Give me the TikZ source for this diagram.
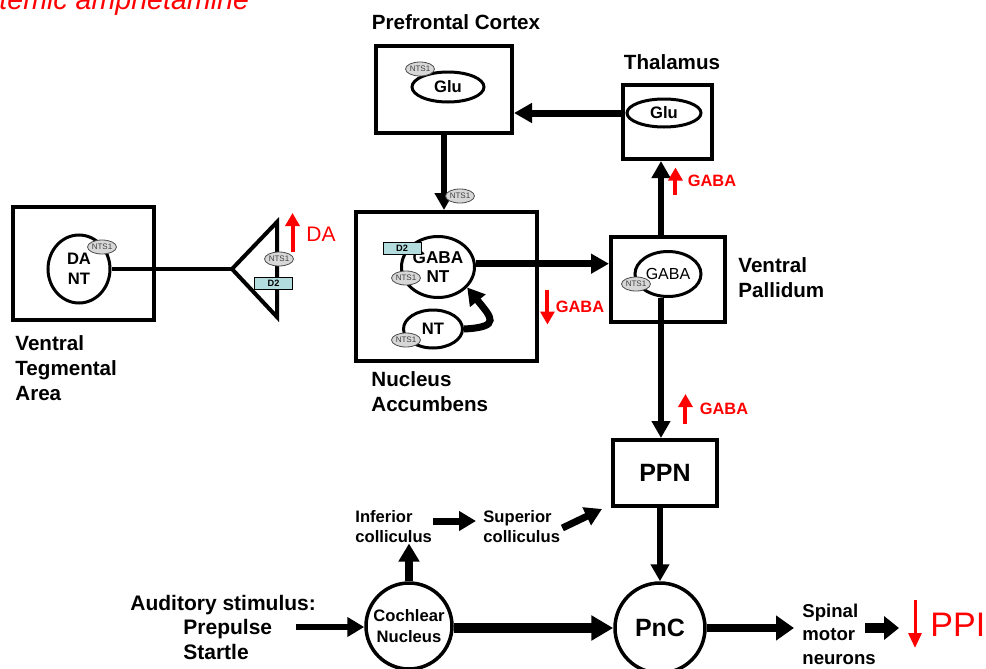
\documentclass[tikz,border=0pt]{standalone}
\usepackage{fontspec}
\setmainfont{Liberation Sans}
\usetikzlibrary{arrows.meta,shapes.geometric,calc}
\definecolor{dtwofill}{RGB}{178,220,222}
\definecolor{ntsfill}{RGB}{215,215,215}
\tikzset{
  region/.style={draw,line width=2pt,inner sep=0pt},
  cell/.style={draw,ellipse,line width=1.5pt,inner sep=0pt,align=center,
    font=\bfseries\fontsize{8.3}{10}\selectfont},
  nts/.style={draw=black!70,ellipse,fill=ntsfill,line width=0.4pt,inner sep=0pt,
    minimum width=13pt,minimum height=7pt,text=black!75,font=\fontsize{4}{4}\selectfont},
  dtwo/.style={draw,fill=dtwofill,line width=0.5pt,inner sep=0pt,
    minimum width=19pt,minimum height=6pt,font=\bfseries\fontsize{4.6}{5}\selectfont},
  lbl/.style={align=left,inner sep=0pt,font=\bfseries\fontsize{10.3}{12.5}\selectfont},
  small/.style={align=left,inner sep=0pt,font=\bfseries\fontsize{8.3}{10}\selectfont},
  conn/.style={line width=3pt,-{Triangle[length=8.5pt,width=9pt]}},
  fat/.style={line width=3.5pt,-{Triangle[length=9pt,width=9.5pt]}},
  blk/.style={line width=3.5pt,-{Triangle[length=8.5pt,width=9.5pt]}},
  redmark/.style={red,line width=2pt,-{Triangle[length=6.5pt,width=7pt]}},
  redtxt/.style={red,inner sep=0pt,font=\bfseries\fontsize{8.2}{9}\selectfont},
}
\begin{document}
\begin{tikzpicture}[x=0.5pt,y=-0.5pt]
\useasboundingbox (0,0) rectangle (986,669);
\node[anchor=base west,inner sep=0pt,text=red,font=\itshape\fontsize{14.3}{16}\selectfont] (title) at (-1,10) {temic amphetamine};
%Ventral Tegmental Area
\node[region,minimum width=70.5pt,minimum height=56.5pt] (vta) at (83.5,263.5) {};
\node[cell,minimum width=31pt,minimum height=34pt] (dant) at (79,269) {DA\\NT};
\node[nts] (dants) at (102,247) {NTS1};
\node[lbl,anchor=west] (vtalbl) at (15,368) {Ventral\\Tegmental\\Area};
%Terminal
\coordinate (term) at (232,269);
\coordinate (termtop) at (277,222);
\coordinate (termbot) at (277,317);
\draw[line width=2pt] (dant.east) -- (term);
\draw[line width=2pt,line join=miter] (term) -- (termtop) -- (termbot) -- cycle;
\node[nts] (termnts) at (279,259) {NTS1};
\node[dtwo] (termd2) at (273.5,283) {D2};
\node[text=red,inner sep=0pt,font=\fontsize{10.5}{12}\selectfont] (dalbl) at (321,234) {DA};
\draw[redmark] ([xshift=-6.75pt,yshift=-9pt]dalbl.west) -- ([xshift=-6.75pt,yshift=10.5pt]dalbl.west);
%Prefrontal Cortex
\node[lbl] (pfclbl) at (456,22) {Prefrontal Cortex};
\node[region,minimum width=68pt,minimum height=43.5pt] (pfc) at (444,89.5) {};
\node[cell,minimum width=36pt,minimum height=15pt] (pfcglu) at (448,87) {Glu};
\node[nts] (pfcnts) at (420,69) {NTS1};
%Thalamus
\node[lbl] (thallbl) at (672,62) {Thalamus};
\node[region,minimum width=44.5pt,minimum height=37pt] (thal) at (667.5,122) {};
\node[cell,minimum width=37pt,minimum height=14pt] (thalglu) at (664,113) {Glu};
\draw[fat] (thal.west |- thalglu) -- (pfc.east |- thalglu);
%Nucleus Accumbens
\node[region,minimum width=90.5pt,minimum height=74.5pt] (nac) at (446.5,286.5) {};
\node[cell,minimum width=36.5pt,minimum height=30.5pt,font=\bfseries\fontsize{8.6}{9.5}\selectfont] (nacgaba) at (438,267) {GABA\\NT};
\node[dtwo] (nacd2) at (402,248) {D2};
\node[nts] (nacnts) at (406,278) {NTS1};
\node[cell,minimum width=29.5pt,minimum height=19pt] (nacnt) at (433,329) {NT};
\node[nts] (ntnts) at (406,340) {NTS1};
\node[lbl,anchor=west] (naclbl) at (371,392) {Nucleus\\Accumbens};
\draw[conn] (pfc.south) -- (pfc.south |- nac.north);
\node[nts] (pathnts) at (460,196) {NTS1};
\draw[line width=3.5pt,-{Triangle[length=8.5pt,width=9.5pt]}] (nacnt.east) .. controls +(38,-2) and +(24,30) .. (nacgaba.-35);
\node[redtxt] (nacred) at (580,307) {GABA};
\draw[redmark] ([xshift=-4pt,yshift=8.75pt]nacred.west) -- ([xshift=-4pt,yshift=-8.75pt]nacred.west);
%Ventral Pallidum
\node[region,minimum width=57pt,minimum height=42.5pt] (vp) at (668,279.5) {};
\node[cell,font=\fontsize{8}{9}\selectfont,minimum width=33pt,minimum height=22.5pt] (vpgaba) at (668,274) {GABA};
\node[nts] (vpnts) at (636,284) {NTS1};
\node[lbl,anchor=west] (vplbl) at (738,278) {Ventral\\Pallidum};
\draw[fat] (nacgaba.5) -- (nacgaba.5 -| vp.west);
\coordinate (axis) at (661,0);
\draw[conn] (axis |- vp.north) -- (axis |- thal.south);
\node[redtxt] (thalred) at (712,181) {GABA};
\draw[redmark] ([xshift=-6pt,yshift=-6.75pt]thalred.west) -- ([xshift=-6pt,yshift=6.75pt]thalred.west);
%PPN
\node[region,minimum width=52pt,minimum height=33pt,font=\bfseries\fontsize{12.5}{14}\selectfont] (ppn) at (665,473) {PPN};
\draw[conn] (axis |- vpgaba.south) -- (axis |- ppn.north);
\node[redtxt] (ppnred) at (724,409) {GABA};
\draw[redmark] ([xshift=-7pt,yshift=-7.5pt]ppnred.west) -- ([xshift=-7pt,yshift=7.5pt]ppnred.west);
%PnC
\node[draw,circle,line width=1.75pt,minimum size=45pt,inner sep=0pt,font=\bfseries\fontsize{12.5}{14}\selectfont] (pnc) at (660,628) {PnC};
\draw[conn] (pnc.north |- ppn.south) -- (pnc.north);
%Cochlear Nucleus
\node[draw,circle,line width=1.75pt,minimum size=43pt,inner sep=0pt,align=center,font=\bfseries\fontsize{8.3}{10.5}\selectfont] (cn) at (409,626) {Cochlear\\Nucleus};
\draw[line width=5pt,-{Triangle[length=11pt,width=12pt]}] (cn.east |- pnc) -- (pnc.west);
\node[small,anchor=west] (ic) at (355,527) {Inferior\\colliculus};
\node[small,anchor=west] (sc) at (483,527) {Superior\\colliculus};
\draw[line width=4pt,-{Triangle[length=9pt,width=10pt]}] (cn.north) -- (cn.north |- ic.south);
\draw[blk] ($(ic.east)+(1,-6)$) -- ($(sc.west)+(-7,-6)$);
\draw[blk] ($(sc.east)+(2,1)$) -- ($(ppn.south west)+(-9,1)$);
%Stimulus
\node[anchor=west,align=left,inner sep=0pt,font=\bfseries\fontsize{10.5}{12.25}\selectfont] (stim) at (130,627) {Auditory stimulus:\\\hspace*{26.5pt}Prepulse\\\hspace*{26.5pt}Startle};
\coordinate (stimout) at (296,627);
\draw[line width=3pt,-{Triangle[length=8.5pt,width=9.5pt]}] (stimout) -- (stimout -| cn.west);
%Output
\node[anchor=west,align=left,inner sep=0pt,font=\bfseries\fontsize{9.3}{11.75}\selectfont] (spinal) at (802,634) {Spinal\\motor\\neurons};
\draw[line width=4pt,-{Triangle[length=9pt,width=12pt]}] (pnc.east) -- ($(spinal.west |- pnc.east)+(-8,0)$);
\node[anchor=west,inner sep=0pt,text=red,font=\fontsize{17}{18}\selectfont] (ppi) at (930,625) {PPI};
\coordinate (spout) at (865,628);
\coordinate (ppiin) at (899,628);
\draw[line width=5pt,-{Triangle[length=7.5pt,width=11.5pt]}] (spout) -- (ppiin);
\draw[red,line width=1.5pt,-{Triangle[length=7.5pt,width=6.5pt]}] ([xshift=-7.5pt,yshift=12.5pt]ppi.west) -- ([xshift=-7.5pt,yshift=-11.5pt]ppi.west);
\end{tikzpicture}
\end{document}
